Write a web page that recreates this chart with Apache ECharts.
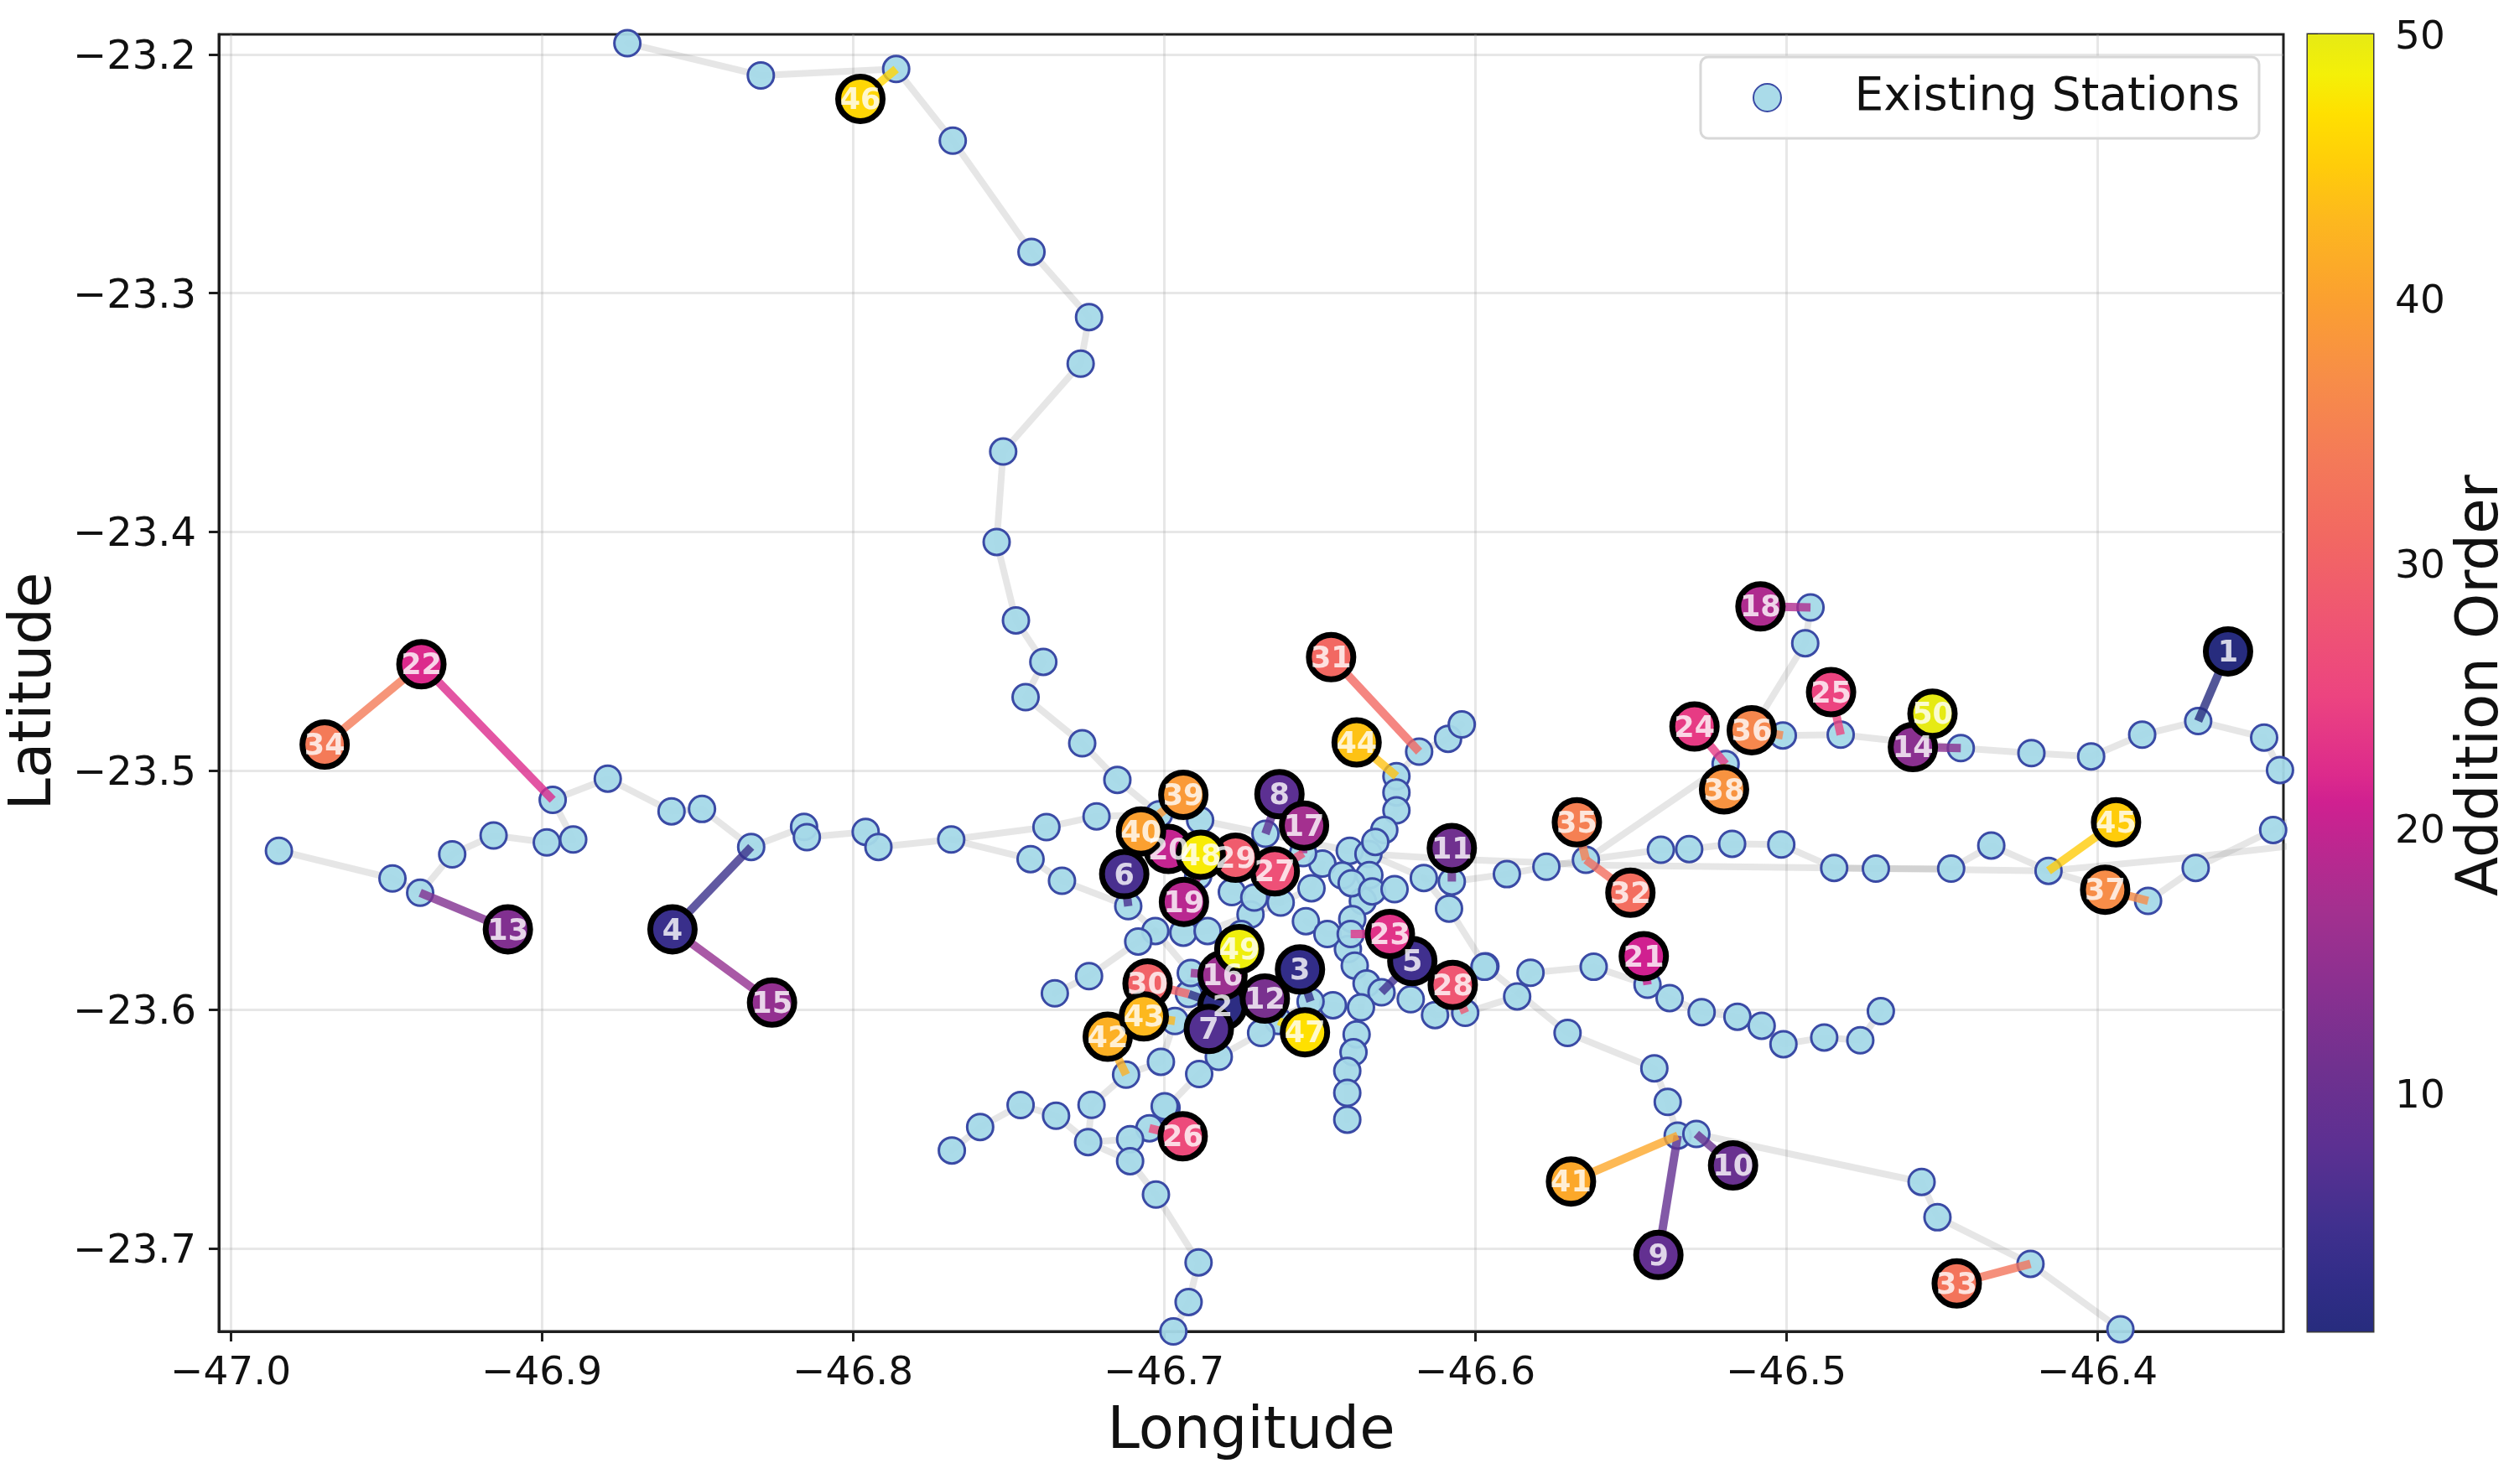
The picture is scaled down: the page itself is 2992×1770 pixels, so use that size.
<!DOCTYPE html>
<html>
<head>
<meta charset="utf-8">
<title>Station expansion order</title>
<script src="https://cdn.jsdelivr.net/npm/echarts@6/dist/echarts.min.js"></script>
<style>
  html, body { margin: 0; padding: 0; background: #fff; }
  #chart { width: 2992px; height: 1770px; }
</style>
</head>
<body>
<div id="chart"></div>
<script>
// Axis ticks
const lonTicks = [-47.0, -46.9, -46.8, -46.7, -46.6, -46.5, -46.4];
const latTicks = [-23.2, -23.3, -23.4, -23.5, -23.6, -23.7];
const orderTicks = [10, 20, 30, 40, 50];

// Existing network, one array per corridor: [longitude, latitude]
const routeNorth = [[-46.8725,-23.1953],[-46.8296,-23.2088],[-46.7861,-23.2061],[-46.7679,-23.2361],[-46.7426,-23.2827],[-46.7241,-23.3100],[-46.7268,-23.3295],[-46.7517,-23.3663],[-46.7538,-23.4042],[-46.7476,-23.4370],[-46.7388,-23.4544],[-46.7445,-23.4692],[-46.7263,-23.4885],[-46.7150,-23.5038],[-46.7016,-23.5182]];
const routeWest = [[-46.9845,-23.5335],[-46.9480,-23.5451],[-46.9391,-23.5511],[-46.9288,-23.5350],[-46.9155,-23.5271],[-46.8984,-23.5300],[-46.8899,-23.5288],[-46.8965,-23.5122],[-46.8788,-23.5033],[-46.8583,-23.5170],[-46.8485,-23.5160],[-46.8327,-23.5319],[-46.8157,-23.5235],[-46.8148,-23.5278],[-46.7959,-23.5256],[-46.7918,-23.5319],[-46.7684,-23.5288],[-46.7378,-23.5236],[-46.7217,-23.5191],[-46.7016,-23.5182],[-46.6884,-23.5207],[-46.6674,-23.5264],[-46.6403,-23.5335],[-46.6343,-23.5348]];
const routeWestBranch = [[-46.7684,-23.5288],[-46.7429,-23.5370],[-46.7328,-23.5461],[-46.7115,-23.5567],[-46.7028,-23.5671]];
const routeEastLocal = [[-46.6343,-23.5348],[-46.6165,-23.5449],[-46.6075,-23.5464],[-46.5898,-23.5433],[-46.5771,-23.5402],[-46.5644,-23.5373],[-46.5403,-23.5331],[-46.5312,-23.5328],[-46.5174,-23.5306],[-46.5016,-23.5309],[-46.4846,-23.5407],[-46.4712,-23.5410],[-46.4470,-23.5410],[-46.4341,-23.5313],[-46.4157,-23.5419],[-46.3837,-23.5545],[-46.3684,-23.5407],[-46.3435,-23.5248],[-46.3380,-23.5210]];
const routeNorthEast = [[-46.5644,-23.5373],[-46.5195,-23.4972],[-46.5111,-23.4830],[-46.4939,-23.4466],[-46.4922,-23.4316]];
const routeEastUpper = [[-46.5111,-23.4830],[-46.5011,-23.4852],[-46.4825,-23.4849],[-46.4439,-23.4905],[-46.4212,-23.4926],[-46.4020,-23.4940],[-46.3856,-23.4849],[-46.3676,-23.4792],[-46.3464,-23.4861],[-46.3413,-23.4997]];
const routeSouthEast = [[-46.6165,-23.5449],[-46.6084,-23.5577],[-46.5967,-23.5819],[-46.5703,-23.6098],[-46.5424,-23.6246],[-46.5381,-23.6387],[-46.5349,-23.6528],[-46.5289,-23.6521],[-46.4565,-23.6722],[-46.4514,-23.6870],[-46.4215,-23.7065],[-46.3926,-23.7339]];
const routeFarEast = [[-46.6032,-23.6014],[-46.5865,-23.5945],[-46.5822,-23.5846],[-46.5619,-23.5821],[-46.5446,-23.5896],[-46.5375,-23.5952],[-46.5272,-23.6011],[-46.5157,-23.6030],[-46.5079,-23.6068],[-46.5009,-23.6145],[-46.4878,-23.6117],[-46.4762,-23.6129],[-46.4696,-23.6007]];
const routeCentreLoop = [[-46.6253,-23.5023],[-46.6253,-23.5091],[-46.6253,-23.5166],[-46.6292,-23.5248],[-46.6321,-23.5298],[-46.6343,-23.5348],[-46.6340,-23.5437],[-46.6361,-23.5546],[-46.6395,-23.5621],[-46.6409,-23.5747],[-46.6387,-23.5816],[-46.6349,-23.5891],[-46.6301,-23.5928],[-46.6207,-23.5957],[-46.6129,-23.6023],[-46.6032,-23.6014]];
const routeNorthStub = [[-46.6253,-23.5023],[-46.6180,-23.4920],[-46.6087,-23.4866],[-46.6043,-23.4806]];
const routeSouth = [[-46.6349,-23.5891],[-46.6367,-23.5991],[-46.6381,-23.6104],[-46.6391,-23.6179],[-46.6411,-23.6257],[-46.6411,-23.6349],[-46.6411,-23.6461]];
const routeSouthWest = [[-46.6367,-23.5991],[-46.6457,-23.5982],[-46.6529,-23.5966],[-46.6632,-23.6048],[-46.6688,-23.6098],[-46.6824,-23.6198],[-46.6887,-23.6270],[-46.6992,-23.6411],[-46.7047,-23.6497],[-46.7109,-23.6543],[-46.7244,-23.6555],[-46.7233,-23.6399],[-46.7122,-23.6273],[-46.7010,-23.6219],[-46.6965,-23.6048],[-46.6920,-23.5935],[-46.6914,-23.5847],[-46.7028,-23.5671]];
const routeInner = [[-46.7351,-23.5932],[-46.7241,-23.5860],[-46.7083,-23.5715],[-46.7028,-23.5671],[-46.6938,-23.5678],[-46.6860,-23.5671],[-46.6722,-23.5602],[-46.6625,-23.5552],[-46.6526,-23.5492],[-46.6491,-23.5389]];
const routeFarSouth = [[-46.7682,-23.6590],[-46.7591,-23.6492],[-46.7461,-23.6400],[-46.7347,-23.6445],[-46.7244,-23.6555],[-46.7109,-23.6635],[-46.7026,-23.6775],[-46.6889,-23.7059],[-46.6921,-23.7225],[-46.6970,-23.7348]];
const routeCentreSpur = [[-46.6782,-23.5508],[-46.6710,-23.5531],[-46.6625,-23.5552]];
const routeCentreShort = [[-46.6544,-23.5630],[-46.6475,-23.5684],[-46.6400,-23.5684]];
// Through-running track with no stops of its own along the way
const trackExpress = [[-46.6343,-23.5348],[-46.6075,-23.5370],[-46.5770,-23.5385],[-46.5644,-23.5395],[-46.4846,-23.5407],[-46.4157,-23.5419],[-46.3705,-23.5363],[-46.3380,-23.5315]];
// Stations that sit off the drawn corridors
const looseStations = [[-46.6427,-23.5439],[-46.6397,-23.5471],[-46.6331,-23.5505],[-46.6259,-23.5496],[-46.5970,-23.5821],[-46.7047,-23.6497],[-46.6998,-23.6405],[-46.7109,-23.6543],[-46.6890,-23.5440],[-46.6752,-23.5684],[-46.6650,-23.5990],[-46.6830,-23.6040],[-46.6553,-23.5345],[-46.6968,-23.5345],[-46.6880,-23.5370],[-46.6750,-23.5400]];

// New stations in the order they were added (order 1 is the first entry)
const newLon = [-46.3580,-46.6812,-46.6563,-46.8580,-46.6202,-46.7128,-46.6856,-46.6629,-46.5411,-46.5171,-46.6075,-46.6676,-46.9109,-46.4593,-46.8260,-46.6812,-46.6550,-46.5083,-46.6936,-46.6986,-46.5458,-46.9387,-46.6274,-46.5295,-46.4856,-46.6940,-46.6644,-46.6072,-46.6770,-46.7053,-46.6463,-46.5501,-46.4452,-46.9698,-46.5673,-46.5111,-46.3975,-46.5200,-46.6938,-46.7074,-46.5692,-46.7181,-46.7065,-46.6381,-46.3940,-46.7976,-46.6547,-46.6882,-46.6758,-46.4530];
const newLat = [-23.4500,-23.5985,-23.5832,-23.5664,-23.5797,-23.5433,-23.6081,-23.5098,-23.7028,-23.6653,-23.5324,-23.5954,-23.5664,-23.4901,-23.5971,-23.5857,-23.5230,-23.4312,-23.5549,-23.5327,-23.5777,-23.4554,-23.5684,-23.4815,-23.4671,-23.6531,-23.5421,-23.5897,-23.5364,-23.5891,-23.4524,-23.5511,-23.7147,-23.4890,-23.5216,-23.4830,-23.5498,-23.5078,-23.5101,-23.5254,-23.6720,-23.6114,-23.6029,-23.4881,-23.5216,-23.2186,-23.6095,-23.5352,-23.5747,-23.4761];
// The point each new station is linked to
const linkLon = [-46.3676,-46.6920,-46.6529,-46.8327,-46.6301,-46.7115,-46.6830,-46.6674,-46.5349,-46.5289,-46.6075,-46.6650,-46.9391,-46.4439,-46.8580,-46.6914,-46.6553,-46.4922,-46.6890,-46.6968,-46.5446,-46.8965,-46.6400,-46.5195,-46.4825,-46.7047,-46.6553,-46.6032,-46.6750,-46.6920,-46.6180,-46.5644,-46.4215,-46.9387,-46.5644,-46.5011,-46.3837,-46.5195,-46.7016,-46.7016,-46.5349,-46.7122,-46.6965,-46.6253,-46.4157,-46.7861,-46.6632,-46.6880,-46.6752,-46.4593];
const linkLat = [-23.4792,-23.5935,-23.5966,-23.5319,-23.5928,-23.5567,-23.6040,-23.5264,-23.6528,-23.6521,-23.5464,-23.5990,-23.5511,-23.4905,-23.5664,-23.5847,-23.5345,-23.4316,-23.5440,-23.5345,-23.5896,-23.5122,-23.5684,-23.4972,-23.4849,-23.6497,-23.5345,-23.6014,-23.5400,-23.5935,-23.4920,-23.5373,-23.7065,-23.4554,-23.5373,-23.4852,-23.5545,-23.4972,-23.5182,-23.5182,-23.6528,-23.6273,-23.6048,-23.5023,-23.5419,-23.2061,-23.6048,-23.5370,-23.5684,-23.4901];

// Colour scale for the addition order
const scaleValues = [1, 3, 5, 8, 11, 14, 17, 20, 21, 22, 25, 28, 31, 34, 37, 40, 43, 45, 47, 48.5, 50];
const scaleColors = ['#272c7e', '#322d88', '#40308e', '#5c3092', '#70318f', '#8a3090', '#a4308f', '#c42490', '#d02090', '#dc2a8c', '#ec4480', '#ef5672', '#f26862', '#f47a58', '#f78d48', '#fba030', '#fdb81e', '#ffcc0a', '#ffe000', '#f4f008', '#e6ea14'];

const FONT = 'DejaVu Sans';
const INK = '#111111';
const SPINE = '#1f1f1f';

function orderColor(v) {
  let i = 0;
  while (i < scaleValues.length - 2 && v > scaleValues[i + 1]) i++;
  const t = (v - scaleValues[i]) / (scaleValues[i + 1] - scaleValues[i]);
  return echarts.color.lerp(t, [scaleColors[i], scaleColors[i + 1]]);
}

const stationRoutes = [routeNorth, routeWest, routeWestBranch, routeEastLocal, routeNorthEast, routeEastUpper, routeSouthEast, routeFarEast, routeCentreLoop, routeNorthStub, routeSouth, routeSouthWest, routeInner, routeFarSouth, routeCentreSpur, routeCentreShort];

// Unique station list from every corridor; the stubs leaving the frame on the east side are not stops
const stationKeys = new Set();
const stations = [];
stationRoutes.concat([looseStations]).forEach(function (route) {
  route.forEach(function (p) {
    const key = p.join(',');
    if (p[0] > -46.339 || stationKeys.has(key)) return;
    stationKeys.add(key);
    stations.push(p);
  });
});

const minus = function (v) { return String(v.toFixed(1)).replace('-', '\u2212'); };

const series = [];

stationRoutes.concat([trackExpress]).forEach(function (route) {
  series.push({
    type: 'line', data: route, xAxisIndex: 0, yAxisIndex: 0, z: 2, silent: true,
    showSymbol: false, symbol: 'none', smooth: false, animation: false,
    lineStyle: { color: 'rgba(128,128,128,0.2)', width: 8, cap: 'round', join: 'round' }
  });
});

series.push({
  name: 'Existing Stations', type: 'scatter', data: stations, xAxisIndex: 0, yAxisIndex: 0, z: 3,
  symbol: 'circle', symbolSize: 31, silent: true, animation: false,
  itemStyle: { color: 'rgba(165,217,232,0.95)', borderColor: '#3a4aa5', borderWidth: 3, opacity: 1 }
});

newLon.forEach(function (lon, i) {
  series.push({
    type: 'line', data: [[lon, newLat[i]], [linkLon[i], linkLat[i]]], xAxisIndex: 0, yAxisIndex: 0, z: 4,
    silent: true, showSymbol: false, symbol: 'none', animation: false,
    lineStyle: { color: orderColor(i + 1), width: 10, opacity: 0.8, cap: 'butt' }
  });
});

// Markers first, numbers in their own series so every number stays readable over overlapping markers
series.push({
  type: 'scatter', xAxisIndex: 0, yAxisIndex: 0, z: 5, silent: true, animation: false,
  symbol: 'circle', symbolSize: 53,
  data: newLon.map(function (lon, i) {
    return { value: [lon, newLat[i]], itemStyle: { color: orderColor(i + 1), borderColor: '#000', borderWidth: 7, opacity: 1 } };
  })
});
series.push({
  type: 'scatter', xAxisIndex: 0, yAxisIndex: 0, z: 6, silent: true, animation: false,
  symbol: 'circle', symbolSize: 2, itemStyle: { color: 'transparent', borderWidth: 0 },
  data: newLon.map(function (lon, i) { return [lon, newLat[i]]; }),
  label: {
    show: true, position: 'inside', color: '#fff', fontFamily: FONT, fontWeight: 'bold', fontSize: 35,
    verticalAlign: 'top', lineHeight: 6,
    formatter: function (p) { return String(p.dataIndex + 1); }
  }
});

// Colour bar as a single gradient block on its own small axis pair
series.push({
  type: 'custom', xAxisIndex: 1, yAxisIndex: 1, silent: true, animation: false, z: 2,
  data: [[0, 1, 1, 50]],
  renderItem: function (params, api) {
    const a = api.coord([0, 50]);
    const b = api.coord([1, 1]);
    return {
      type: 'rect',
      shape: { x: a[0], y: a[1], width: b[0] - a[0], height: b[1] - a[1] },
      style: {
        fill: new echarts.graphic.LinearGradient(0, 1, 0, 0, scaleValues.map(function (v, i) {
          return { offset: (v - 1) / 49, color: scaleColors[i] };
        }))
      }
    };
  }
});

const chart = echarts.init(document.getElementById('chart'), null, { renderer: 'canvas' });
chart.setOption({
  animation: false,
  backgroundColor: '#fff',
  textStyle: { fontFamily: FONT, color: INK },
  legend: {
    data: ['Existing Stations'], selectedMode: false,
    right: 298, top: 68, orient: 'horizontal',
    backgroundColor: 'rgba(255,255,255,0.85)',
    borderColor: '#d8d8d8', borderWidth: 3, borderRadius: 9,
    padding: [21, 23, 21, 62],
    itemWidth: 100, itemHeight: 33, itemGap: 0,
    textStyle: { fontFamily: FONT, fontSize: 55, color: INK, padding: [0, 0, 0, 49] }
  },
  grid: [
    { left: 261, top: 41, width: 2462, height: 1547, show: true, backgroundColor: '#fff', borderColor: SPINE, borderWidth: 3, outerBoundsMode: 'none' },
    { left: 2752, top: 41, width: 78, height: 1547, show: true, backgroundColor: '#fff', borderColor: '#3a3a3a', borderWidth: 3, outerBoundsMode: 'none' }
  ],
  xAxis: [
    {
      gridIndex: 0, type: 'value', min: -47.0038, max: -46.3402, splitNumber: 7,
      name: 'Longitude', nameLocation: 'middle', nameGap: 87,
      nameTextStyle: { fontFamily: FONT, fontSize: 69, color: INK },
      axisLine: { show: true, onZero: false, lineStyle: { color: SPINE, width: 3 } },
      axisTick: { show: true, length: 12, customValues: lonTicks, lineStyle: { color: SPINE, width: 3 } },
      axisLabel: { show: true, customValues: lonTicks, margin: 27, fontFamily: FONT, fontSize: 47, color: INK, formatter: minus },
      splitLine: { show: true, lineStyle: { color: 'rgba(170,170,170,0.28)', width: 3 } }
    },
    { gridIndex: 1, type: 'value', min: 0, max: 1, show: false }
  ],
  yAxis: [
    {
      gridIndex: 0, type: 'value', min: -23.7348, max: -23.1916, splitNumber: 6,
      name: 'Latitude', nameLocation: 'middle', nameGap: 184, nameRotate: 90, nameMoveOverlap: false,
      nameTextStyle: { fontFamily: FONT, fontSize: 69, color: INK, padding: [0, 20, 0, 0] },
      axisLine: { show: true, onZero: false, lineStyle: { color: SPINE, width: 3 } },
      axisTick: { show: true, length: 12, customValues: latTicks, lineStyle: { color: SPINE, width: 3 } },
      axisLabel: { show: true, customValues: latTicks, margin: 27, verticalAlign: 'top', lineHeight: 9, fontFamily: FONT, fontSize: 48, color: INK, formatter: minus },
      splitLine: { show: true, lineStyle: { color: 'rgba(170,170,170,0.28)', width: 3 } }
    },
    {
      gridIndex: 1, type: 'value', min: 1, max: 50, position: 'right',
      name: 'Addition Order', nameLocation: 'middle', nameGap: 96, nameRotate: 90,
      nameTextStyle: { fontFamily: FONT, fontSize: 69, color: INK, padding: [0, 6, 0, 0] },
      axisLine: { show: false },
      axisTick: { show: true, length: 12, customValues: orderTicks, lineStyle: { color: SPINE, width: 3 } },
      axisLabel: { show: true, customValues: orderTicks, margin: 26, verticalAlign: 'top', lineHeight: 9, fontFamily: FONT, fontSize: 47, color: INK },
      splitLine: { show: false }
    }
  ],
  series: series
});
</script>
</body>
</html>
